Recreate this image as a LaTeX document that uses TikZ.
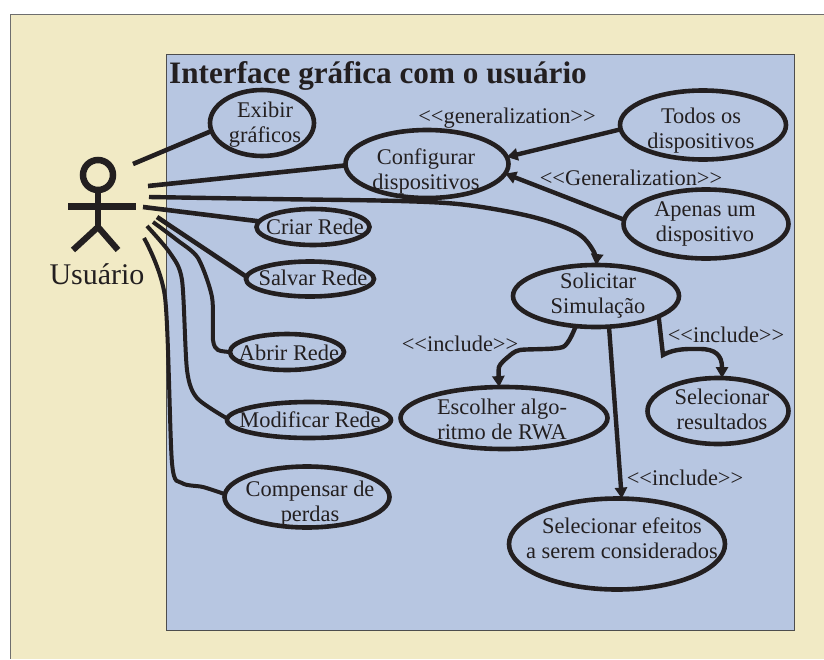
\documentclass[tikz,border=0pt]{standalone}
\usepackage{fontspec}
\setmainfont{Liberation Serif}
\usetikzlibrary{shapes.geometric,arrows.meta}
\definecolor{ink}{HTML}{231F20}
\definecolor{cream}{HTML}{F1EAC5}
\definecolor{panel}{HTML}{B7C6E1}
\definecolor{edge}{HTML}{6E6E6E}
\newcommand{\oguil}{<\kern0pt<}
\newcommand{\cguil}{>\kern0pt>}
\tikzset{
  ulabel/.style={font=\fontsize{22.4}{25}\selectfont,text=ink,align=center,inner sep=0pt,outer sep=0pt},
  uc/.style n args={5}{ellipse,draw=ink,line width=4.6pt,minimum width=#1,minimum height=#2,
    inner sep=0pt,outer sep=0pt,label={[ulabel,xshift=#3,yshift=#4]center:#5}},
  link/.style={draw=ink,line width=4.6pt},
  linkthin/.style={draw=ink,line width=4pt},
  flow/.style={draw=ink,line width=4.4pt,-{Triangle[length=11pt,width=12pt]}},
  stereo/.style={font=\fontsize{22.4}{25}\selectfont,text=ink,inner sep=0pt},
  limb/.style={draw=ink,line width=6.2pt}
}
\begin{document}
\begin{tikzpicture}[x=1pt,y=-1pt]
\useasboundingbox (0,0) rectangle (824,659);
\fill[cream] (10,14) rectangle (824,659);
\draw[edge,line width=1pt] (824,14) -- (10,14) -- (10,659);
\filldraw[fill=panel,draw=edge!70!black,line width=1pt] (166,54) rectangle (794,630);
\node[anchor=base west,inner sep=0pt,font=\fontsize{31.2}{35}\selectfont\bfseries,text=ink] (title) at (169,83) {Interface gráfica com o usuário};

% actor
\node[circle,draw=ink,line width=6.5pt,minimum size=30pt,inner sep=0pt,outer sep=0pt] (head) at (98,175) {};
\coordinate (hip) at (98,227);
\coordinate (armL) at (68,206);
\coordinate (armR) at (136,206);
\coordinate (footL) at (73,250);
\coordinate (footR) at (118,250);
\draw[limb] (head.south) -- (hip);
\draw[draw=ink,line width=7pt] (armL) -- (armR);
\draw[limb] (footL) -- (hip) -- (footR);
\node[anchor=base,inner sep=0pt,font=\fontsize{30}{34}\selectfont,text=ink] (actor) at (97,284) {Usuário};

% use cases
\node[uc={104pt}{66pt}{3pt}{-1.5pt}{Exibir\\gráficos}] (exibir) at (262,123) {};
\node[uc={163pt}{68pt}{-1pt}{-7.5pt}{Configurar\\dispositivos}] (config) at (427,164) {};
\node[uc={166pt}{69pt}{-2pt}{-5.5pt}{Todos os\\dispositivos}] (todos) at (703,125) {};
\node[uc={165pt}{69pt}{-1pt}{0.5pt}{Apenas um\\dispositivo}] (apenas) at (706,224) {};
\node[uc={113pt}{36pt}{2pt}{0pt}{Criar Rede}] (criar) at (313,227) {};
\node[uc={128pt}{35pt}{3pt}{1pt}{Salvar Rede}] (salvar) at (310,279) {};
\node[uc={114pt}{36pt}{2pt}{-1pt}{Abrir Rede}] (abrir) at (287,352) {};
\node[uc={164pt}{36pt}{1pt}{0pt}{Modificar Rede}] (modificar) at (309,420) {};
\node[uc={165pt}{61pt}{3pt}{-7pt}{Compensar de\\perdas}] (compensar) at (307,497) {};
\node[uc={166pt}{62pt}{2pt}{0pt}{Solicitar\\Simulação}] (solicitar) at (596,296) {};
\node[uc={207pt}{62pt}{-2pt}{-1.5pt}{Escolher algo-\\ritmo de RWA}] (escolher) at (504,418) {};
\node[uc={141pt}{66pt}{4pt}{1.5pt}{Selecionar\\resultados}] (resultados) at (718,411) {};
\node[uc={216pt}{91pt}{5pt}{5.5pt}{Selecionar efeitos\\a serem considerados}] (efeitos) at (617,544) {};

% free ends at the actor
\coordinate (a1) at (133,164);
\coordinate (a2) at (148,186);
\coordinate (a3) at (149,197);
\coordinate (a4) at (143,207);
\coordinate (a5) at (157,217);
\coordinate (a6) at (153,222);
\coordinate (a7) at (147,226);
\coordinate (a8) at (144,238);

% associations
\draw[link] (a1) -- (exibir.189);
\draw[link] (a2) -- (config.181);
\draw[flow] plot[smooth,tension=0.55] coordinates {(a3) (270,199) (400,201) (467,205) (533,217) (577,233) (594,252) (solicitar.90)};
\draw[link] (a4) -- (criar.174);
\draw[link] (a5) -- (salvar.178);
\draw[linkthin] plot[smooth,tension=0.45] coordinates {(a6) (177,240) (198,258) (212,297) (213,340) (218,350) (abrir.180)};
\draw[linkthin] plot[smooth,tension=0.45] coordinates {(a7) (170,253) (182,280) (187,370) (197,398) (modificar.179)};
\draw[linkthin] plot[smooth,tension=0.45] coordinates {(a8) (165,297) (172,463) (182,483) (203,487) (compensar.178)};

% dependencies
\draw[flow] (todos.183) -- (config.5.5);
\draw[flow] (apenas.177) -- (config.-7);
\draw[flow] plot[smooth,tension=0.4] coordinates {(solicitar.236.7) (563,347) (520,350) (508,357) (499,367) (escolher.99)};
\draw[flow] (solicitar.-67) -- (efeitos.84);
\draw[flow] (solicitar.-18.7) -- (663,355) .. controls (675,348) and (690,349) .. (700,349) .. controls (715,349) and (722,355) .. (resultados.83);

% stereotypes
\node[stereo] (s1) at (507,118) {\oguil generalization\cguil};
\node[stereo] (s2) at (631,178) {\oguil Generalization\cguil};
\node[stereo] (s3) at (460,344) {\oguil include\cguil};
\node[stereo] (s4) at (726,335) {\oguil include\cguil};
\node[stereo] (s5) at (685,478) {\oguil include\cguil};
\end{tikzpicture}
\end{document}
